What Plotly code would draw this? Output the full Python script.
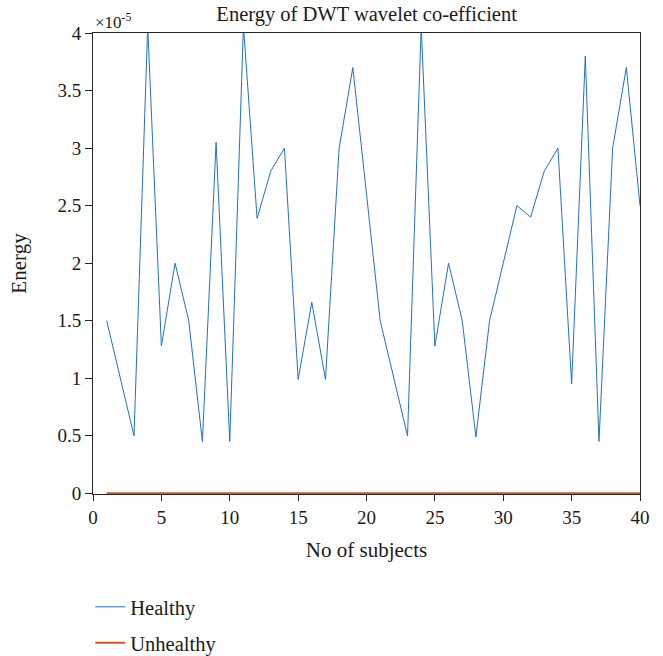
import plotly.graph_objects as go

subjects = list(range(1, 41))
# Energy values in units of 1e-5
healthy = [1.5, 1.0, 0.5, 4.06, 1.28, 2.0, 1.5, 0.45, 3.05, 0.45,
           4.06, 2.39, 2.8, 3.0, 0.99, 1.66, 0.99, 3.0, 3.7, 2.6,
           1.5, 1.0, 0.5, 4.06, 1.28, 2.0, 1.5, 0.49, 1.5, 2.0,
           2.5, 2.4, 2.8, 3.0, 0.95, 3.8, 0.45, 3.0, 3.7, 2.5]
unhealthy = [0.0] * 40
scale = 1e-5

ytick_vals = [0, 0.5, 1, 1.5, 2, 2.5, 3, 3.5, 4]
ytick_text = ["0", "0.5", "1", "1.5", "2", "2.5", "3", "3.5", "4"]
xtick_vals = [0, 5, 10, 15, 20, 25, 30, 35, 40]

FF = "Liberation Serif"
TXT = "#1a1a1a"

fig = go.Figure()
fig.add_trace(go.Scatter(x=subjects, y=[v * scale for v in healthy], mode="lines",
                         name="Healthy", line=dict(color="#1f72c0", width=1),
                         legend="legend"))
fig.add_trace(go.Scatter(x=subjects, y=[v * scale for v in unhealthy], mode="lines",
                         name="Unhealthy", line=dict(color="#D95319", width=2),
                         legend="legend2"))

fig.update_layout(
    width=663, height=656,
    margin=dict(l=93, r=23, t=33, b=162, autoexpand=False),
    paper_bgcolor="white", plot_bgcolor="white",
    font=dict(family=FF, size=19, color=TXT),
    title=dict(text="Energy of DWT wavelet co-efficient", x=0.553, xanchor="center",
               y=1 - 14 / 656, yanchor="middle", font=dict(family=FF, size=20.5, color=TXT)),
    xaxis=dict(range=[0, 40], tickvals=xtick_vals,
               ticks="outside", ticklen=6, tickcolor="#262626",
               tickfont=dict(family=FF, size=19, color=TXT),
               showline=True, linecolor="#262626", linewidth=1, mirror=True,
               showgrid=False, zeroline=False, layer="below traces",
               title=dict(text="No of subjects", standoff=15,
                          font=dict(family=FF, size=21, color=TXT))),
    yaxis=dict(range=[-0.006 * scale, 4 * scale], tickvals=[v * scale for v in ytick_vals],
               ticktext=ytick_text,
               ticks="outside", ticklen=7, tickcolor="#262626",
               tickfont=dict(family=FF, size=19, color=TXT),
               showline=True, linecolor="#262626", linewidth=1, mirror=True,
               showgrid=False, zeroline=False, layer="below traces",
               title=dict(text="Energy", standoff=25,
                          font=dict(family=FF, size=21, color=TXT))),
    legend=dict(x=-0.005, y=(494 - 607) / 461, xanchor="left", yanchor="middle",
                bgcolor="rgba(0,0,0,0)", font=dict(family=FF, size=20.5, color=TXT)),
    legend2=dict(x=-0.005, y=(494 - 643) / 461, xanchor="left", yanchor="middle",
                 bgcolor="rgba(0,0,0,0)", font=dict(family=FF, size=20.5, color=TXT)),
    showlegend=True,
)

fig.add_annotation(text="×10<sup>-5</sup>", xref="paper", yref="paper",
                   x=0.0, y=1.0, xanchor="left", yanchor="bottom", yshift=-1,
                   showarrow=False, font=dict(family=FF, size=17, color=TXT))

fig.write_html("out.html")
